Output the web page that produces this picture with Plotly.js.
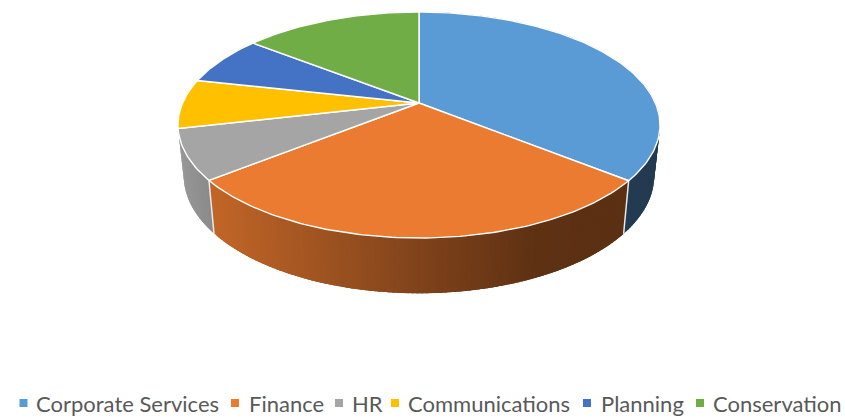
<!DOCTYPE html>
<html><head><meta charset="utf-8">
<script src="https://cdn.plot.ly/plotly-3.0.1.min.js"></script>
<style>html,body{margin:0;padding:0;background:#fff}#c{width:845px;height:420px}</style>
</head><body><div id="c"></div>
<script>
// Data
const categories = ["Corporate Services","Finance","HR","Communications","Planning","Conservation"];
const shares = [35.8,28.45,7.15,7.05,7.15,14.4];
const colors = ["#5B9BD5","#EB7B30","#A5A5A5","#FFC000","#4472C4","#70AD47"];
const legendSquareX = [23.5,235,339,395,587,700];
const legendTextX = [36,249,352,408,601,713];

// Projection of the tilted disc onto the pixel-sized axes
const apex = {x:419,y:103}, R = 236.4, S = 108.7, P = 0.1947;
const WALL = {k:0.976, y0:234, yAt:181, slope:1.04};
function rim(t){ const u=Math.sin(t), v=-Math.cos(t), d=1-P*v;
  return [apex.x+R*u/d, apex.y+S*v/d]; }
function lower(p){ return [apex.x+(p[0]-apex.x)*WALL.k, WALL.y0+WALL.slope*(p[1]-WALL.yAt)]; }
const shadeX=[178,210,413,530,660], shadeF=[0.92,0.82,0.54,0.40,0.38];
function shade(x){ let i=0; while(i<shadeX.length-2 && x>shadeX[i+1]) i++;
  const f=Math.min(1,Math.max(0,(x-shadeX[i])/(shadeX[i+1]-shadeX[i])));
  return shadeF[i]+(shadeF[i+1]-shadeF[i])*f; }
function dim(hex,f){ const n=parseInt(hex.slice(1),16);
  return `rgb(${Math.round((n>>16&255)*f)},${Math.round((n>>8&255)*f)},${Math.round((n&255)*f)})`; }

const total = shares.reduce((a,b)=>a+b,0);
let acc=0; const spans = shares.map(s=>{const a=acc/total*2*Math.PI; acc+=s; return [a,acc/total*2*Math.PI];});
const traces=[];
const base={type:"scatter",mode:"lines",hoverinfo:"skip",showlegend:false,xaxis:"x",yaxis:"y"};

// Side walls: narrow bands shaded by horizontal position, each overlapping the next to avoid seams
spans.slice(0,3).forEach((sp,i)=>{
  const n=Math.max(12,Math.round((sp[1]-sp[0])*60));
  const step=(sp[1]-sp[0])/n;
  for(let j=0;j<n;j++){
    const a=sp[0]+step*j, b=sp[0]+step*j+step;
    const end=Math.max(sp[0],a-step*1.5);
    const pa=rim(a),pb=rim(b),pe=rim(end),qb=lower(pb),qe=lower(pe);
    const c=dim(colors[i],i===0?0.38:shade((pa[0]+pb[0])/2));
    traces.push(Object.assign({},base,{x:[pe[0],pb[0],qb[0],qe[0],pe[0]],y:[pe[1],pb[1],qb[1],qe[1],pe[1]],
      fill:"toself",fillcolor:c,line:{color:c,width:0}}));
  }
});
// Wall separators
[spans[0][1],spans[1][1]].forEach(t=>{ const p=rim(t),q=lower(p);
  traces.push(Object.assign({},base,{x:[p[0],q[0]],y:[p[1],q[1]],line:{color:"#e8e8e8",width:1.5}}));
});
// Top slices
spans.forEach((sp,i)=>{
  const xs=[apex.x],ys=[apex.y],n=Math.max(8,Math.round((sp[1]-sp[0])*60));
  for(let j=0;j<=n;j++){const p=rim(sp[0]+(sp[1]-sp[0])*j/n);xs.push(p[0]);ys.push(p[1]);}
  xs.push(apex.x);ys.push(apex.y);
  traces.push(Object.assign({},base,{name:categories[i],x:xs,y:ys,fill:"toself",fillcolor:colors[i],
    line:{color:"#ffffff",width:1.4}}));
});
// Legend squares
categories.forEach((c,i)=>traces.push({type:"scatter",mode:"markers",name:c,hoverinfo:"skip",showlegend:false,
  x:[legendSquareX[i]],y:[403],marker:{symbol:"square",size:8,color:colors[i]}}));

const annotations=categories.map((c,i)=>({text:c,x:legendTextX[i],y:403,xref:"x",yref:"y",xanchor:"left",yanchor:"middle",
  showarrow:false,borderpad:0,xshift:-1,font:{family:"Lato, Open Sans, sans-serif",size:22,color:"#595959"}}));

Plotly.newPlot("c",traces,{
  width:845,height:420,margin:{l:0,r:0,t:0,b:0},paper_bgcolor:"#fff",plot_bgcolor:"#fff",
  xaxis:{range:[0,845],visible:false,fixedrange:true},
  yaxis:{range:[420,0],visible:false,fixedrange:true},
  showlegend:false,annotations
},{staticPlot:true,displayModeBar:false});
</script></body></html>
